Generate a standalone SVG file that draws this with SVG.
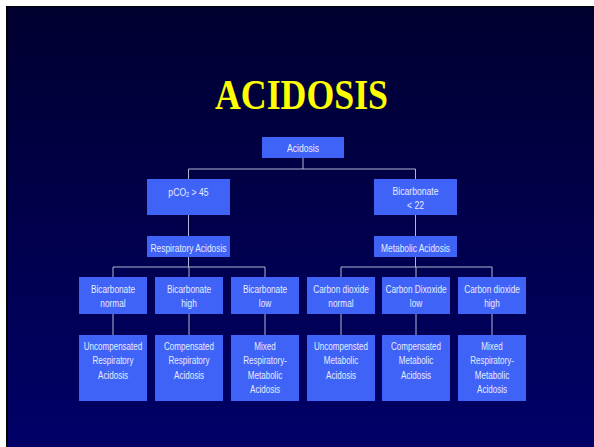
<svg xmlns="http://www.w3.org/2000/svg" width="594" height="447" viewBox="0 0 594 447">
<defs>
<linearGradient id="bg" x1="0" y1="0" x2="0" y2="1">
<stop offset="0" stop-color="#000030"/>
<stop offset="1" stop-color="#000068"/>
</linearGradient>
<style>
.box{fill:#3f63f7;}
.t{font-family:"Liberation Sans",Arial,sans-serif;font-size:11.5px;fill:#e8ebff;text-anchor:middle;}
.c{stroke:#b4b4d4;stroke-width:1;fill:none;}
.title{font-family:"Liberation Serif","Times New Roman",serif;font-weight:bold;font-size:43px;fill:#ffff00;text-anchor:middle;}
</style>
</defs>
<rect x="0" y="0" width="594" height="447" fill="#ffffff"/>
<rect x="6" y="6" width="588" height="441" fill="#000000"/>
<rect x="8" y="7" width="586" height="440" fill="url(#bg)"/>
<text class="title" x="301.5" y="108.5" textLength="173" lengthAdjust="spacingAndGlyphs">ACIDOSIS</text>
<g id="connectors">
<path class="c" d="M303 158V169M188.5 169H415.5M188.5 169V179M415.5 169V179"/>
<path class="c" d="M188.5 215V236M415.5 215V236"/>
<path class="c" d="M188.5 257V267M113 267H265M113 267V277M189 267V277M265 267V277"/>
<path class="c" d="M415.5 257V267M341 267H492M341 267V277M416 267V277M492 267V277"/>
<path class="c" d="M113 314V335M189 314V335M265 314V335M341 314V335M416 314V335M492 314V335"/>
</g>
<g id="n-acidosis"><rect class="box" x="262" y="137" width="82" height="21"/><text class="t" transform="translate(303,151.5) scale(0.75,1)">Acidosis</text></g>
<g id="n-pco2"><rect class="box" x="147" y="179" width="83" height="36"/><text class="t" transform="translate(188.5,196) scale(0.75,1)">pCO<tspan font-size="7.5" dy="1">2</tspan><tspan dy="-1"> &gt; 45</tspan></text></g>
<g id="n-bicarb"><rect class="box" x="374" y="179" width="83" height="36"/><text class="t" transform="translate(415.5,195) scale(0.75,1)"><tspan x="0" y="0">Bicarbonate</tspan><tspan x="0" y="14">&lt; 22</tspan></text></g>
<g id="n-resp"><rect class="box" x="147" y="236" width="83" height="21"/><text class="t" transform="translate(188.5,251.5) scale(0.73,1)">Respiratory Acidosis</text></g>
<g id="n-metab"><rect class="box" x="374" y="236" width="83" height="21"/><text class="t" transform="translate(415.5,251.5) scale(0.73,1)">Metabolic Acidosis</text></g>

<g id="n-bn"><rect class="box" x="79" y="277" width="68" height="37"/><text class="t" transform="translate(113,292.7) scale(0.72,1)"><tspan x="0" y="0">Bicarbonate</tspan><tspan x="0" y="14">normal</tspan></text></g>
<g id="n-bh"><rect class="box" x="155" y="277" width="68" height="37"/><text class="t" transform="translate(189,292.7) scale(0.72,1)"><tspan x="0" y="0">Bicarbonate</tspan><tspan x="0" y="14">high</tspan></text></g>
<g id="n-bl"><rect class="box" x="231" y="277" width="68" height="37"/><text class="t" transform="translate(265,292.7) scale(0.72,1)"><tspan x="0" y="0">Bicarbonate</tspan><tspan x="0" y="14">low</tspan></text></g>
<g id="n-cn"><rect class="box" x="307" y="277" width="68" height="37"/><text class="t" transform="translate(341,292.7) scale(0.72,1)"><tspan x="0" y="0">Carbon dioxide</tspan><tspan x="0" y="14">normal</tspan></text></g>
<g id="n-cl"><rect class="box" x="382" y="277" width="68" height="37"/><text class="t" transform="translate(416,292.7) scale(0.72,1)"><tspan x="0" y="0">Carbon Dixoxide</tspan><tspan x="0" y="14">low</tspan></text></g>
<g id="n-ch"><rect class="box" x="458" y="277" width="68" height="37"/><text class="t" transform="translate(492,292.7) scale(0.72,1)"><tspan x="0" y="0">Carbon dioxide</tspan><tspan x="0" y="14">high</tspan></text></g>

<g id="n-ura"><rect class="box" x="79" y="335" width="68" height="66"/><text class="t" transform="translate(113,350) scale(0.7,1)"><tspan x="0" y="0">Uncompensated</tspan><tspan x="0" y="14.3">Respiratory</tspan><tspan x="0" y="28.6">Acidosis</tspan></text></g>
<g id="n-cra"><rect class="box" x="155" y="335" width="68" height="66"/><text class="t" transform="translate(189,350) scale(0.7,1)"><tspan x="0" y="0">Compensated</tspan><tspan x="0" y="14.3">Respiratory</tspan><tspan x="0" y="28.6">Acidosis</tspan></text></g>
<g id="n-mrm1"><rect class="box" x="231" y="335" width="68" height="66"/><text class="t" transform="translate(265,350) scale(0.7,1)"><tspan x="0" y="0">Mixed</tspan><tspan x="0" y="14.3">Respiratory-</tspan><tspan x="0" y="28.6">Metabolic</tspan><tspan x="0" y="42.9">Acidosis</tspan></text></g>
<g id="n-uma"><rect class="box" x="307" y="335" width="68" height="66"/><text class="t" transform="translate(341,350) scale(0.7,1)"><tspan x="0" y="0">Uncompensted</tspan><tspan x="0" y="14.3">Metabolic</tspan><tspan x="0" y="28.6">Acidosis</tspan></text></g>
<g id="n-cma"><rect class="box" x="382" y="335" width="68" height="66"/><text class="t" transform="translate(416,350) scale(0.7,1)"><tspan x="0" y="0">Compensated</tspan><tspan x="0" y="14.3">Metabolic</tspan><tspan x="0" y="28.6">Acidosis</tspan></text></g>
<g id="n-mrm2"><rect class="box" x="458" y="335" width="68" height="66"/><text class="t" transform="translate(492,350) scale(0.7,1)"><tspan x="0" y="0">Mixed</tspan><tspan x="0" y="14.3">Respiratory-</tspan><tspan x="0" y="28.6">Metabolic</tspan><tspan x="0" y="42.9">Acidosis</tspan></text></g>
</svg>
